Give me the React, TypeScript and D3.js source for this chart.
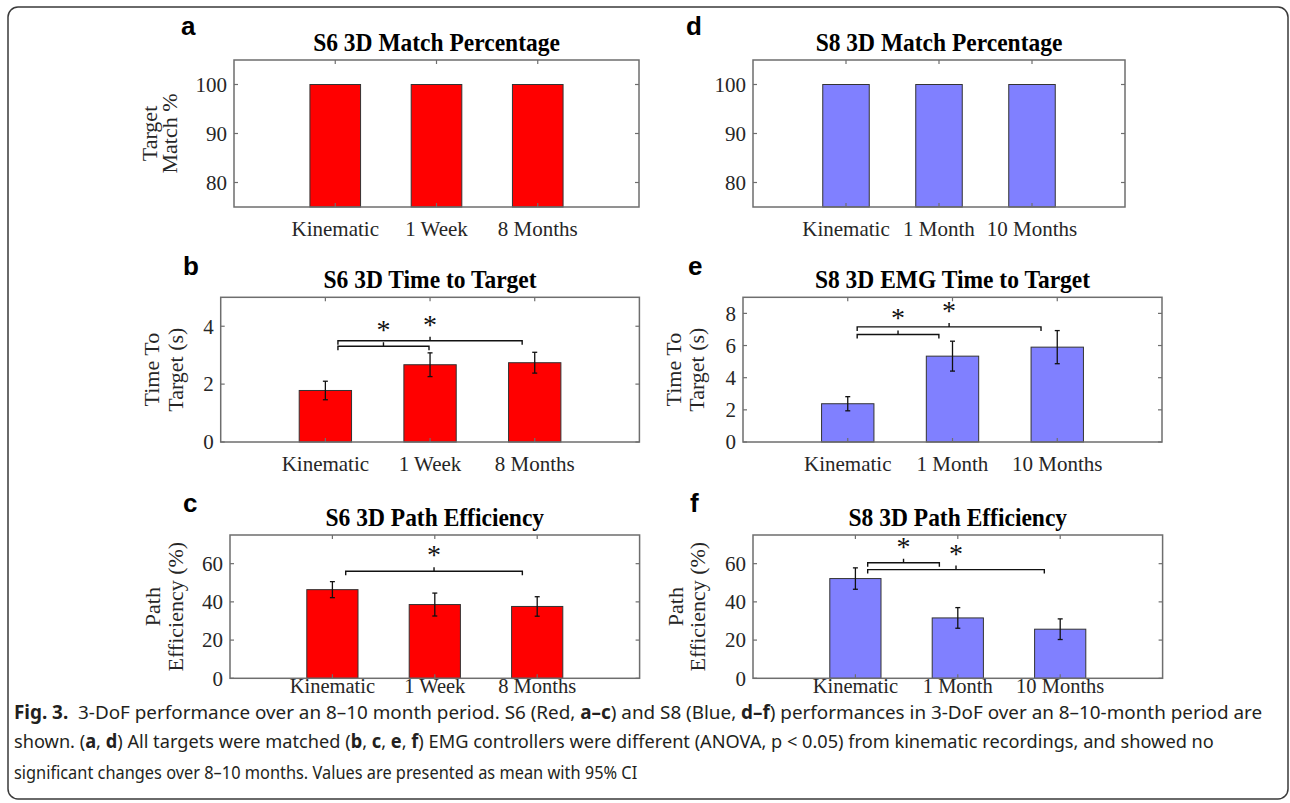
import React, { useLayoutEffect, useRef, useState } from "react";
import * as d3 from "d3";

// categories
const s6Categories = ["Kinematic", "1 Week", "8 Months"];
const s8Categories = ["Kinematic", "1 Month", "10 Months"];

// match percentage (all matched)
const s6Match = [100, 100, 100];
const s8Match = [100, 100, 100];

// time to target (s), mean and 95% CI half width
const s6Time = [1.78, 2.67, 2.74];
const s6TimeErr = [0.32, 0.41, 0.36];
const s8Time = [2.38, 5.34, 5.9];
const s8TimeErr = [0.44, 0.93, 1.03];

// path efficiency (%)
const s6Path = [46.4, 38.6, 37.6];
const s6PathErr = [4.2, 6.0, 5.1];
const s8Path = [52.2, 31.6, 25.7];
const s8PathErr = [5.6, 5.4, 5.4];

// tick values
const matchTicks = [80, 90, 100];
const s6TimeTicks = [0, 2, 4];
const s8TimeTicks = [0, 2, 4, 6, 8];
const pathTicks = [0, 20, 40, 60];

// significance brackets, in axis units (categories sit at 1, 2, 3)
const s6TimeSig = [
  { x1: 1.12, x2: 1.99, y: 3.31 },
  { x1: 1.12, x2: 2.88, y: 3.5 },
];
const s6PathSig = [{ x1: 1.13, x2: 2.855, y: 56 }];
const s8TimeSig = [
  { x1: 1.09, x2: 1.87, y: 6.69 },
  { x1: 1.09, x2: 2.845, y: 7.16 },
];
const s8PathSig = [
  { x1: 1.12, x2: 1.82, y: 60.5 },
  { x1: 1.12, x2: 2.845, y: 56.9 },
];

const RED = "#ff0000";
const BLUE = "#8080ff";
const serif = "'Liberation Serif', 'Times New Roman', serif";
const sans = "'Liberation Sans', Arial, sans-serif";

let panels = [
  {
    letter: "a", lx: 181, ly: 35,
    title: "S6 3D Match Percentage",
    left: 234, right: 639, top: 60, bottom: 207, catGap: 29, catSize: 21,
    yDomain: [75, 105], ticks: matchTicks,
    cats: s6Categories, values: s6Match, errs: null, sig: [],
    color: RED,
    yLabel: ["Target", "Match %"], yLabelX: [157, 177],
  },
  {
    letter: "b", lx: 183, ly: 275,
    title: "S6 3D Time to Target",
    left: 220.7, right: 639.4, top: 297.3, bottom: 442, catGap: 29, catSize: 21,
    yDomain: [0, 5], ticks: s6TimeTicks,
    cats: s6Categories, values: s6Time, errs: s6TimeErr, sig: s6TimeSig,
    color: RED,
    yLabel: ["Time To", "Target (s)"], yLabelX: [159, 183],
  },
  {
    letter: "c", lx: 183, ly: 512,
    title: "S6 3D Path Efficiency",
    left: 230, right: 639.6, top: 535, bottom: 678.3, catGap: 15, catSize: 20.5,
    yDomain: [0, 75], ticks: pathTicks,
    cats: s6Categories, values: s6Path, errs: s6PathErr, sig: s6PathSig,
    color: RED,
    yLabel: ["Path", "Efficiency (%)"], yLabelX: [160, 183],
  },
  {
    letter: "d", lx: 686, ly: 35,
    title: "S8 3D Match Percentage",
    left: 753, right: 1125, top: 60, bottom: 207, catGap: 29, catSize: 21,
    yDomain: [75, 105], ticks: matchTicks,
    cats: s8Categories, values: s8Match, errs: null, sig: [],
    color: BLUE,
    yLabel: null, yLabelX: null,
  },
  {
    letter: "e", lx: 688, ly: 275,
    title: "S8 3D EMG Time to Target",
    left: 743, right: 1162, top: 297.3, bottom: 442, catGap: 29, catSize: 21,
    yDomain: [0, 9], ticks: s8TimeTicks,
    cats: s8Categories, values: s8Time, errs: s8TimeErr, sig: s8TimeSig,
    color: BLUE,
    yLabel: ["Time To", "Target (s)"], yLabelX: [681, 704],
  },
  {
    letter: "f", lx: 690, ly: 512,
    title: "S8 3D Path Efficiency",
    left: 753, right: 1162.6, top: 535, bottom: 678.3, catGap: 15, catSize: 20.5,
    yDomain: [0, 75], ticks: pathTicks,
    cats: s8Categories, values: s8Path, errs: s8PathErr, sig: s8PathSig,
    color: BLUE,
    yLabel: ["Path", "Efficiency (%)"], yLabelX: [683, 705],
  },
];

const Panel = ({ p }) => {
  let x = d3.scaleLinear().domain([0, 4]).range([p.left, p.right]);
  let y = d3.scaleLinear().domain(p.yDomain).range([p.bottom, p.top]);
  let barW = x(0.5) - x(0);
  let positions = p.cats.map((c, i) => i + 1);
  let tickLen = 4;
  let midY = (p.top + p.bottom) / 2;

  return (
    <g>
      <text x={p.lx} y={p.ly} fontFamily={sans} fontWeight="bold" fontSize={26} fill="#000">
        {p.letter}
      </text>
      <text
        transform={"translate(" + (p.left + p.right) / 2 + "," + (p.top - 9) + ") scale(1,1.1)"}
        textAnchor="middle"
        fontFamily={serif}
        fontWeight="bold"
        fontSize={23.5}
        fill="#000"
      >
        {p.title}
      </text>

      {/* bars */}
      {p.values.map((v, i) => (
        <rect
          key={"bar" + i}
          x={x(positions[i]) - barW / 2}
          y={y(v)}
          width={barW}
          height={p.bottom - y(v)}
          fill={p.color}
          stroke="#333"
          strokeWidth={1}
        />
      ))}

      {/* error bars */}
      {p.errs &&
        p.values.map((v, i) => {
          let cx = x(positions[i]);
          let y1 = y(v + p.errs[i]);
          let y2 = y(v - p.errs[i]);
          return (
            <g key={"err" + i} stroke="#111" strokeWidth={1.3} fill="none">
              <line x1={cx} x2={cx} y1={y1} y2={y2} />
              <line x1={cx - 2.5} x2={cx + 2.5} y1={y1} y2={y1} />
              <line x1={cx - 2.5} x2={cx + 2.5} y1={y2} y2={y2} />
            </g>
          );
        })}

      {/* axes box and ticks */}
      <rect
        x={p.left}
        y={p.top}
        width={p.right - p.left}
        height={p.bottom - p.top}
        fill="none"
        stroke="#6e6e6e"
        strokeWidth={1.5}
      />
      {p.ticks.map((t) => (
        <g key={"yt" + t} stroke="#6e6e6e" strokeWidth={1.2}>
          <line x1={p.left} x2={p.left + tickLen} y1={y(t)} y2={y(t)} />
          <line x1={p.right} x2={p.right - tickLen} y1={y(t)} y2={y(t)} />
        </g>
      ))}
      {positions.map((pos) => (
        <g key={"xt" + pos} stroke="#6e6e6e" strokeWidth={1.2}>
          <line x1={x(pos)} x2={x(pos)} y1={p.top} y2={p.top + tickLen} />
          <line x1={x(pos)} x2={x(pos)} y1={p.bottom} y2={p.bottom - tickLen} />
        </g>
      ))}
      {p.ticks.map((t) => (
        <text
          key={"yl" + t}
          x={p.left - 7}
          y={y(t)}
          dy="0.35em"
          textAnchor="end"
          fontFamily={serif}
          fontSize={21}
          fill="#262626"
        >
          {t}
        </text>
      ))}
      {p.cats.map((c, i) => (
        <text
          key={"xl" + c}
          x={x(positions[i])}
          y={p.bottom + p.catGap}
          textAnchor="middle"
          fontFamily={serif}
          fontSize={p.catSize}
          fill="#262626"
        >
          {c}
        </text>
      ))}

      {/* y label */}
      {p.yLabel &&
        p.yLabel.map((l, i) => (
          <text
            key={"ylab" + i}
            transform={"translate(" + p.yLabelX[i] + "," + midY + ") rotate(-90)"}
            textAnchor="middle"
            fontFamily={serif}
            fontSize={22}
            fill="#262626"
          >
            {l}
          </text>
        ))}

      {/* significance brackets */}
      {p.sig.map((s, i) => {
        let x1 = x(s.x1);
        let x2 = x(s.x2);
        let yy = y(s.y);
        let cx = (x1 + x2) / 2;
        return (
          <g key={"sig" + i}>
            <path
              d={
                "M" + x1 + "," + (yy + 4) + "V" + yy + "H" + x2 + "V" + (yy + 4) +
                "M" + cx + "," + yy + "V" + (yy - 4)
              }
              fill="none"
              stroke="#111"
              strokeWidth={1.4}
            />
            <text
              x={cx}
              y={yy - 7}
              textAnchor="middle"
              fontFamily={serif}
              fontSize={28}
              fill="#111"
            >
              *
            </text>
          </g>
        );
      })}
    </g>
  );
};

const captionLines = [
  {
    y: 718.5,
    len: 1248,
    parts: [
      { t: "Fig. 3.", b: true },
      { t: "  3-DoF performance over an 8–10 month period. S6 (Red, " },
      { t: "a–c", b: true },
      { t: ") and S8 (Blue, " },
      { t: "d–f", b: true },
      { t: ") performances in 3-DoF over an 8–10-month period are" },
    ],
  },
  {
    y: 748,
    len: 1199,
    parts: [
      { t: "shown. (" },
      { t: "a", b: true },
      { t: ", " },
      { t: "d", b: true },
      { t: ") All targets were matched (" },
      { t: "b", b: true },
      { t: ", " },
      { t: "c", b: true },
      { t: ", " },
      { t: "e", b: true },
      { t: ", " },
      { t: "f", b: true },
      { t: ") EMG controllers were different (ANOVA, p < 0.05) from kinematic recordings, and showed no" },
    ],
  },
  {
    y: 778.5,
    len: 623,
    parts: [{ t: "significant changes over 8–10 months. Values are presented as mean with 95% CI" }],
  },
];

// caption is set in a condensed face: squeeze each line to its width in the figure
const Caption = () => {
  let refs = useRef([]);
  let [scales, setScales] = useState(captionLines.map(() => 0.8));

  useLayoutEffect(() => {
    let s = captionLines.map((line, i) => {
      let el = refs.current[i];
      if (!el) return 0.8;
      let w = el.getComputedTextLength();
      return w > 0 ? line.len / w : 0.8;
    });
    setScales(s);
  }, []);

  return (
    <g>
      {captionLines.map((line, i) => (
        <g key={"cap" + i} transform={"translate(14," + line.y + ") scale(" + scales[i] + ",1)"}>
          <text
            ref={(el) => (refs.current[i] = el)}
            x={0}
            y={0}
            fontFamily="'Noto Sans', 'Open Sans', sans-serif"
            fontSize={19}
            fill="#231f20"
            style={{ whiteSpace: "pre" }}
          >
            {line.parts.map((part, j) => (
              <tspan key={j} fontWeight={part.b ? "bold" : "normal"}>
                {part.t}
              </tspan>
            ))}
          </text>
        </g>
      ))}
    </g>
  );
};

const App = () => {
  return (
    <svg
      width={1290}
      height={803}
      style={{ position: "absolute", left: 0, top: 0, background: "#fff" }}
    >
      <rect x={0} y={0} width={1290} height={803} fill="#fff" />
      <rect
        x={8}
        y={7}
        width={1280}
        height={792}
        rx={10}
        fill="none"
        stroke="#3a3a3a"
        strokeWidth={1.5}
      />
      {panels.map((p) => (
        <Panel key={p.letter} p={p} />
      ))}
      <Caption />
    </svg>
  );
};

export default App;
